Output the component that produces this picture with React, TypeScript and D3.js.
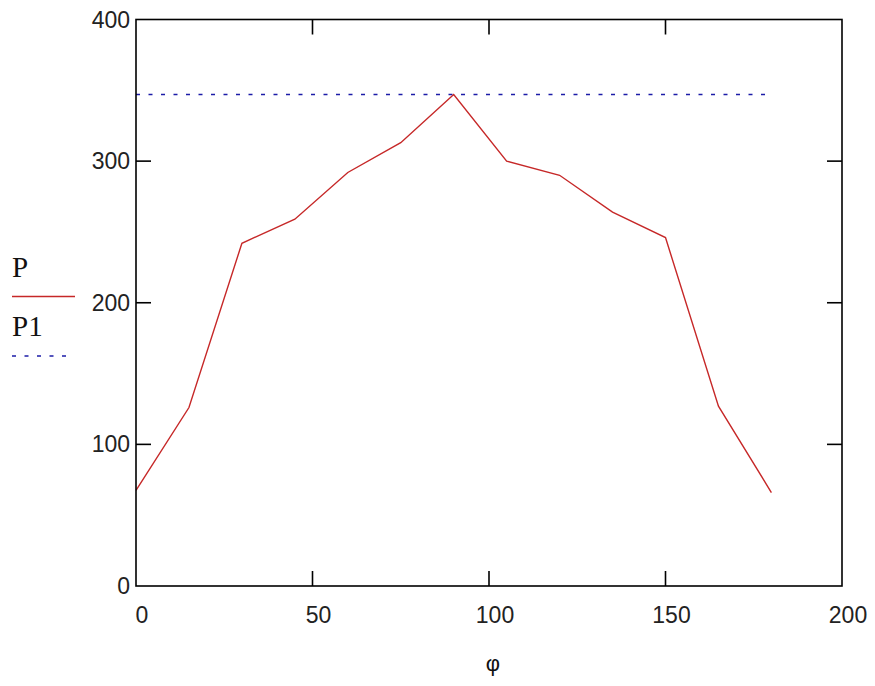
import React from "react";
import * as d3 from "d3";

// angle phi (deg) and the two curves
const phi = [0, 15, 30, 45, 60, 75, 90, 105, 120, 135, 150, 165, 180];
const P = [67.6, 126, 242, 259, 292, 313, 347, 300, 290, 264, 246, 127, 66];
const P1 = [347, 347, 347, 347, 347, 347, 347, 347, 347, 347, 347, 347, 347];
const xTicks = [0, 50, 100, 150, 200];
const yTicks = [0, 100, 200, 300, 400];

const W = 875;
const H = 686;
const margin = { top: 19.5, right: 33, bottom: 100, left: 136 };
const tickFont = "'Liberation Sans', Arial, sans-serif";
const legendFont = "'Liberation Serif', 'Times New Roman', serif";

export default function App() {
  const x = d3.scaleLinear().domain([0, 200]).range([margin.left, W - margin.right]);
  const y = d3.scaleLinear().domain([0, 400]).range([H - margin.bottom, margin.top]);

  const line = d3
    .line<number>()
    .x((_, i) => x(phi[i]))
    .y((d) => y(d));

  const x0 = x(0), x1 = x(200), y0 = y(0), y1 = y(400);
  const tl = 15; // tick length, drawn inside the frame

  return (
    <svg
      width={W}
      height={H}
      style={{ position: "absolute", left: 0, top: 0, background: "#fff" }}
    >
      {/* P1 dotted */}
      <path d={line(P1) || ""} fill="none" stroke="#1c1ca8" strokeWidth={1.6} strokeDasharray="4 8.5" />
      {/* P solid */}
      <path d={line(P) || ""} fill="none" stroke="#c62828" strokeWidth={1.4} />

      {/* frame */}
      <rect x={x0} y={y1} width={x1 - x0} height={y0 - y1} fill="none" stroke="#000" strokeWidth={1.6} />

      {/* x ticks inside, top and bottom */}
      {xTicks.slice(1, -1).map((t) => (
        <g key={"xt" + t}>
          <line x1={x(t)} x2={x(t)} y1={y0} y2={y0 - tl} stroke="#000" strokeWidth={1.6} />
          <line x1={x(t)} x2={x(t)} y1={y1} y2={y1 + tl} stroke="#000" strokeWidth={1.6} />
        </g>
      ))}
      {/* y ticks inside, left and right */}
      {yTicks.slice(1, -1).map((t) => (
        <g key={"yt" + t}>
          <line x1={x0} x2={x0 + tl} y1={y(t)} y2={y(t)} stroke="#000" strokeWidth={1.6} />
          <line x1={x1} x2={x1 - tl} y1={y(t)} y2={y(t)} stroke="#000" strokeWidth={1.6} />
        </g>
      ))}

      {/* tick labels */}
      {xTicks.map((t) => (
        <text
          key={"xl" + t}
          x={x(t) + 6}
          y={y0 + 37}
          textAnchor="middle"
          fontFamily={tickFont}
          fontSize={23}
          fill="#222"
        >
          {t}
        </text>
      ))}
      {yTicks.map((t) => (
        <text
          key={"yl" + t}
          x={x0 - 6}
          y={y(t) + 8}
          textAnchor="end"
          fontFamily={tickFont}
          fontSize={23}
          fill="#222"
        >
          {t}
        </text>
      ))}

      {/* axis label */}
      <text x={493} y={671} textAnchor="middle" fontFamily={tickFont} fontSize={22} fill="#111">
        φ
      </text>

      {/* legend at left */}
      <text x={12} y={277} fontFamily={legendFont} fontSize={29} fill="#111">
        P
      </text>
      <line x1={12} x2={75} y1={296.5} y2={296.5} stroke="#c62828" strokeWidth={1.6} />
      <text x={12} y={336} fontFamily={legendFont} fontSize={29} fill="#111">
        P1
      </text>
      <line x1={12} x2={68} y1={356} y2={356} stroke="#1c1ca8" strokeWidth={1.6} strokeDasharray="4 8.5" />
    </svg>
  );
}
